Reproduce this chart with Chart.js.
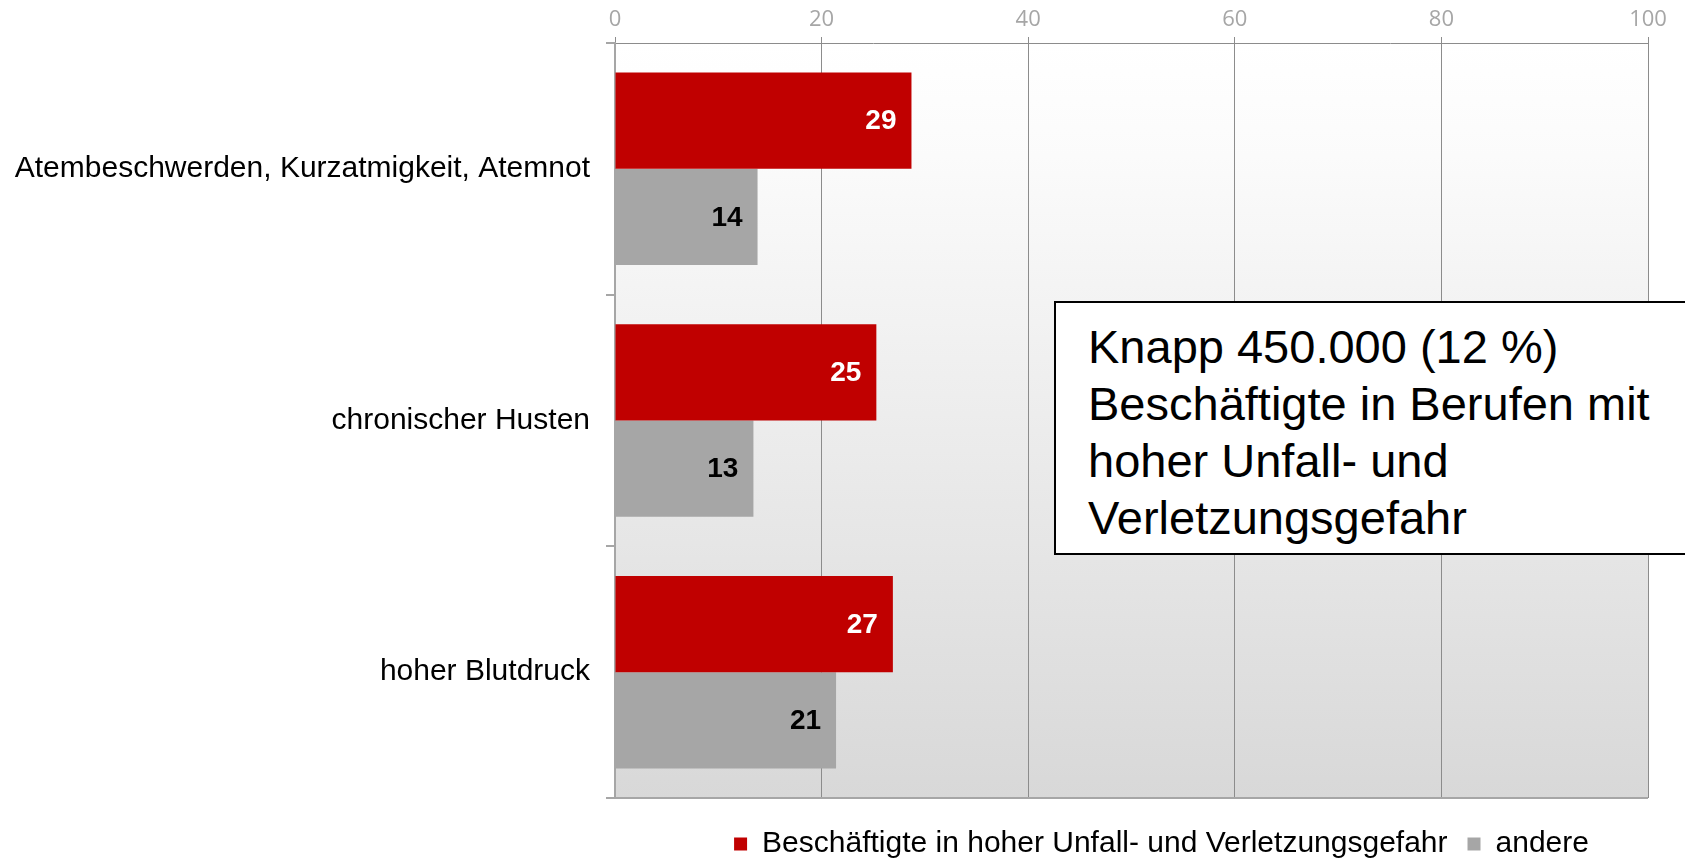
<!DOCTYPE html>
<html>
<head>
<meta charset="utf-8">
<title>Beschwerden</title>
<script src="https://cdn.jsdelivr.net/npm/chart.js@4/dist/chart.umd.min.js"></script>
<style>
  html, body { margin: 0; padding: 0; background: #fff; overflow: hidden; }
  #wrap { position: relative; width: 1685px; height: 858px; }
  #note {
    position: absolute; left: 1054px; top: 301px; width: 700px; height: 254px;
    box-sizing: border-box; border: 2px solid #000; background: #fff;
    padding: 15px 0 0 32px;
    font: 47px/57px "Liberation Sans", Arial, sans-serif; color: #000;
  }
</style>
</head>
<body>
<div id="wrap">
  <canvas id="chart" width="1685" height="858"></canvas>
  <div id="note">Knapp 450.000 (12 %)<br>Beschäftigte in Berufen mit<br>hoher Unfall- und<br>Verletzungsgefahr</div>
</div>
<script>
/* ---------- Data ---------- */
var CATEGORIES = ['Atembeschwerden, Kurzatmigkeit, Atemnot', 'chronischer Husten', 'hoher Blutdruck'];
var HIGH_RISK = [28.7, 25.3, 26.9];
var OTHERS = [13.8, 13.4, 21.4];
var SERIES_NAMES = ['Beschäftigte in hoher Unfall- und Verletzungsgefahr', 'andere'];
var X_TICKS = [0, 20, 40, 60, 80, 100];

var FONT = "'Liberation Sans', Arial, sans-serif";

/* ---------- Plot background (vertical gradient) + bottom frame line ---------- */
var plotBackground = {
  id: 'plotBackground',
  beforeDraw: function (chart) {
    var a = chart.chartArea, ctx = chart.ctx;
    var g = ctx.createLinearGradient(0, a.top, 0, a.bottom);
    g.addColorStop(0, '#ffffff');
    g.addColorStop(0.15, '#fbfbfb');
    g.addColorStop(1, '#d8d8d8');
    ctx.save();
    ctx.fillStyle = g;
    ctx.fillRect(a.left, a.top, a.width, a.height);
    ctx.restore();
  },
  afterDraw: function (chart) {
    var a = chart.chartArea, ctx = chart.ctx;
    ctx.save();
    ctx.strokeStyle = '#a6a6a6';
    ctx.lineWidth = 2;
    ctx.beginPath();
    ctx.moveTo(a.left - 9, a.bottom);
    ctx.lineTo(a.right, a.bottom);
    ctx.stroke();
    ctx.restore();
  }
};

/* ---------- Value labels inside bar ends ---------- */
var barLabels = {
  id: 'barLabels',
  afterDatasetsDraw: function (chart) {
    var ctx = chart.ctx;
    ctx.save();
    ctx.font = 'bold 28px ' + FONT;
    ctx.textAlign = 'right';
    ctx.textBaseline = 'middle';
    chart.data.datasets.forEach(function (ds, di) {
      var meta = chart.getDatasetMeta(di);
      meta.data.forEach(function (bar, i) {
        ctx.fillStyle = di === 0 ? '#ffffff' : '#000000';
        ctx.fillText(Math.round(ds.data[i]), bar.x - 15, bar.y + 1);
      });
    });
    ctx.restore();
  }
};

/* ---------- Legend nudge ---------- */
var legendShift = {
  id: 'legendShift',
  afterLayout: function (chart) {
    var l = chart.legend;
    if (!l) return;
    l.left += 30; l.right += 30;
    l.top += 11; l.bottom += 11;
  }
};

new Chart(document.getElementById('chart'), {
  type: 'bar',
  data: {
    labels: CATEGORIES,
    datasets: [
      { label: SERIES_NAMES[0], data: HIGH_RISK, backgroundColor: '#c00000', barPercentage: 1, categoryPercentage: 0.765 },
      { label: SERIES_NAMES[1], data: OTHERS, backgroundColor: '#a6a6a6', barPercentage: 1, categoryPercentage: 0.765 }
    ]
  },
  options: {
    indexAxis: 'y',
    responsive: false,
    animation: false,
    layout: { padding: { left: 0, right: 37, top: 0, bottom: 0 } },
    plugins: {
      tooltip: { enabled: false },
      legend: {
        position: 'bottom',
        fullSize: false,
        labels: {
          boxWidth: 13, boxHeight: 13, padding: 20,
          color: '#000', font: { family: FONT, size: 30 }
        }
      }
    },
    scales: {
      x: {
        position: 'top',
        min: 0, max: 100,
        afterBuildTicks: function (scale) {
          scale.ticks = X_TICKS.map(function (v) { return { value: v }; });
        },
        afterFit: function (scale) { scale.height = 43; },
        border: { color: '#8c8c8c', width: 1 },
        grid: { color: '#8c8c8c', tickColor: '#8c8c8c', tickLength: 6, lineWidth: 1 },
        ticks: { color: '#a6a6a6', padding: 4, font: { family: "'Open Sans', sans-serif", size: 22 } }
      },
      y: {
        afterFit: function (scale) { scale.width = 615; },
        border: { color: '#a6a6a6', width: 2 },
        grid: { drawOnChartArea: false, tickColor: '#a6a6a6', tickLength: 9, lineWidth: 2 },
        ticks: { color: '#000', padding: 16, font: { family: FONT, size: 30 } }
      }
    }
  },
  plugins: [plotBackground, barLabels, legendShift]
});
</script>
</body>
</html>
